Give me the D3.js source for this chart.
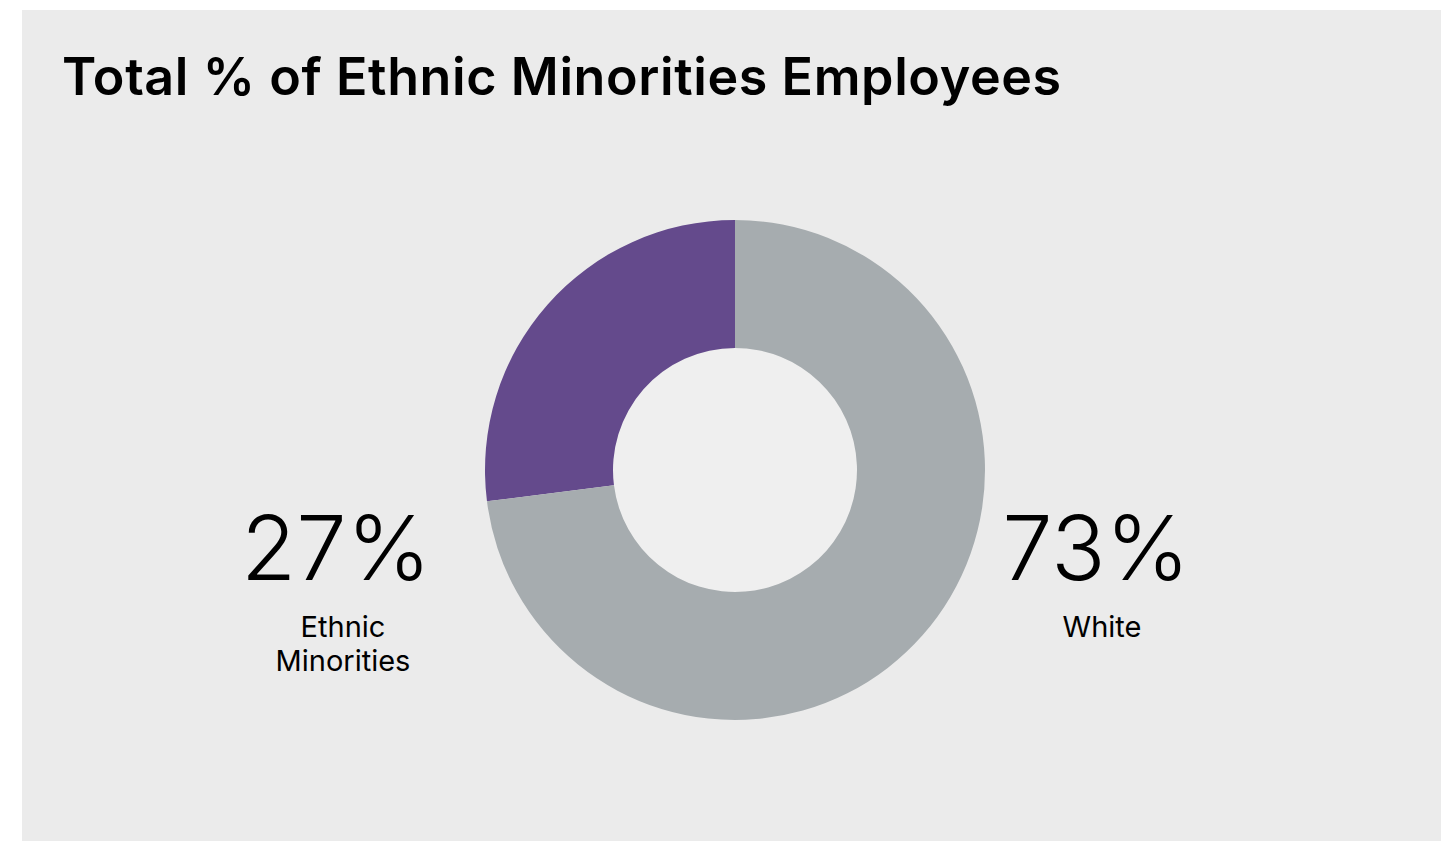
<!DOCTYPE html>
<html>
<head>
<meta charset="utf-8">
<script src="https://cdn.jsdelivr.net/npm/d3@7"></script>
<style>
  html, body { margin: 0; padding: 0; background: #ffffff; }
  svg { display: block; }
</style>
</head>
<body>
<svg id="chart" width="1441" height="841"></svg>
<script>
// Workforce composition by ethnicity (percent of total employees)
const categories = ["Ethnic Minorities", "White"];
const shares = [27, 73];
const valueLabels = ["27%", "73%"];
const nameLines = [["Ethnic", "Minorities"], ["White"]];
const colors = ["#644a8c", "#a6acaf"];

const svg = d3.select("#chart");
const W = 1441, H = 841;

// Panel
svg.append("rect")
  .attr("x", 22).attr("y", 10)
  .attr("width", W - 22).attr("height", H - 10)
  .attr("fill", "#ebebeb");

// Title
svg.append("text")
  .attr("x", 62).attr("y", 95)
  .attr("font-family", "Inter, 'Noto Sans', sans-serif")
  .attr("font-weight", 600)
  .attr("font-size", 52)
  .attr("letter-spacing", 0.6)
  .attr("fill", "#000")
  .text("Total % of Ethnic Minorities Employees");

// Donut
const cx = 735, cy = 470, rOuter = 250, rInner = 122;
const g = svg.append("g").attr("transform", `translate(${cx},${cy})`);

const data = categories.map((c, i) => ({ name: c, value: shares[i], color: colors[i] }));

// Ethnic minorities run anticlockwise from 12 o'clock, the rest fills the circle
const total = d3.sum(shares);
const startA = -2 * Math.PI * shares[0] / total;
const pie = d3.pie()
  .value(d => d.value)
  .sort(null)
  .startAngle(startA)
  .endAngle(startA + 2 * Math.PI);

const arc = d3.arc().innerRadius(rInner).outerRadius(rOuter);

g.append("circle").attr("r", rInner).attr("fill", "#efefef");

g.selectAll("path.slice")
  .data(pie(data))
  .join("path")
  .attr("class", "slice")
  .attr("d", arc)
  .attr("fill", d => d.data.color);

// Labels on either side
const valueX = [336, 1096];
const nameX = [343, 1102];
const labelFont = "Inter, 'Noto Sans', sans-serif";

data.forEach((d, i) => {
  svg.append("text")
    .attr("x", valueX[i]).attr("y", 580)
    .attr("text-anchor", "middle")
    .attr("font-family", labelFont)
    .attr("font-weight", 300)
    .attr("font-size", 90)
    .attr("fill", "#000")
    .text(valueLabels[i]);

  nameLines[i].forEach((line, j) => {
    svg.append("text")
      .attr("x", nameX[i]).attr("y", 637 + j * 34)
      .attr("text-anchor", "middle")
      .attr("font-family", labelFont)
      .attr("font-weight", 400)
      .attr("font-size", 29)
      .attr("fill", "#000")
      .text(line);
  });
});
</script>
</body>
</html>
